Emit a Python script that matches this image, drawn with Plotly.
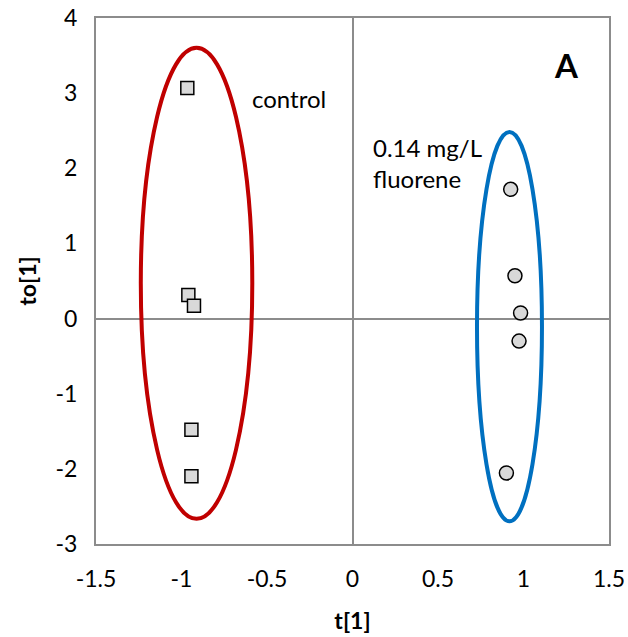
import plotly.graph_objects as go

# OPLS-DA score plot: predictive component t[1] vs orthogonal component to[1]
control_t = [-0.966, -0.960, -0.927, -0.942, -0.942]
control_to = [3.07, 0.313, 0.17, -1.48, -2.10]

fluorene_t = [0.925, 0.950, 0.983, 0.974, 0.900]
fluorene_to = [1.72, 0.57, 0.074, -0.30, -2.055]

# group ellipses: centre (t, to) and semi-axes (t, to)
ellipse_center_t = [-0.912, 0.918]
ellipse_center_to = [0.469, -0.108]
ellipse_radius_t = [0.326, 0.19]
ellipse_radius_to = [3.134, 2.59]
ellipse_colors = ["#C00000", "#0070C0"]

x_ticks = [-1.5, -1, -0.5, 0, 0.5, 1, 1.5]
y_ticks = [-3, -2, -1, 0, 1, 2, 3, 4]

FONT = "Lato"
GRID = "#8C8C8C"

fig = go.Figure()

for cx, cy, rx, ry, col in zip(ellipse_center_t, ellipse_center_to,
                               ellipse_radius_t, ellipse_radius_to, ellipse_colors):
    fig.add_shape(type="circle", xref="x", yref="y",
                  x0=cx - rx, x1=cx + rx, y0=cy - ry, y1=cy + ry,
                  line=dict(color=col, width=4), layer="above")

fig.add_trace(go.Scatter(
    x=control_t, y=control_to, mode="markers", name="control",
    marker=dict(symbol="square", size=13, color="#D9D9D9",
                line=dict(color="black", width=1.5)),
))
fig.add_trace(go.Scatter(
    x=fluorene_t, y=fluorene_to, mode="markers", name="0.14 mg/L fluorene",
    marker=dict(symbol="circle", size=14, color="#D9D9D9",
                line=dict(color="black", width=1.5)),
))

fig.add_annotation(x=-0.602, y=2.93, xref="x", yref="y", text="control",
                   showarrow=False, xanchor="left", yanchor="middle",
                   font=dict(family=FONT, size=24, color="black"))
fig.add_annotation(x=0.106, y=2.07, xref="x", yref="y",
                   text="0.14 mg/L<br>fluorene", align="left",
                   showarrow=False, xanchor="left", yanchor="middle",
                   font=dict(family=FONT, size=24, color="black"))
fig.add_annotation(x=1.25, y=3.38, xref="x", yref="y", text="<b>A</b>",
                   showarrow=False, xanchor="center", yanchor="middle",
                   font=dict(family=FONT, size=33, color="black"))

axis_common = dict(
    showgrid=False, zeroline=True, zerolinecolor=GRID, zerolinewidth=1.5,
    showline=True, linecolor=GRID, linewidth=2, mirror=True, automargin=False,
    ticks="", tickfont=dict(family=FONT, size=23, color="black"),
)

fig.update_xaxes(range=[-1.5, 1.5], tickvals=x_ticks,
                 ticktext=[f"{v:g}" for v in x_ticks], ticklabelstandoff=13,
                 title=dict(text="<b>t[1]</b>", standoff=22,
                            font=dict(family=FONT, size=23, color="black")),
                 **axis_common)
fig.update_yaxes(range=[-3, 4], tickvals=y_ticks,
                 ticktext=[f"{v:g}" for v in y_ticks], ticklabelstandoff=12,
                 title=dict(text="<b>to[1]</b>", standoff=12,
                            font=dict(family=FONT, size=23, color="black")),
                 **axis_common)

fig.update_layout(
    width=628, height=637,
    margin=dict(l=95.5, r=19, t=17.5, b=92.5, autoexpand=False),
    plot_bgcolor="white", paper_bgcolor="white",
    showlegend=False,
)

fig.write_html("out.html")
